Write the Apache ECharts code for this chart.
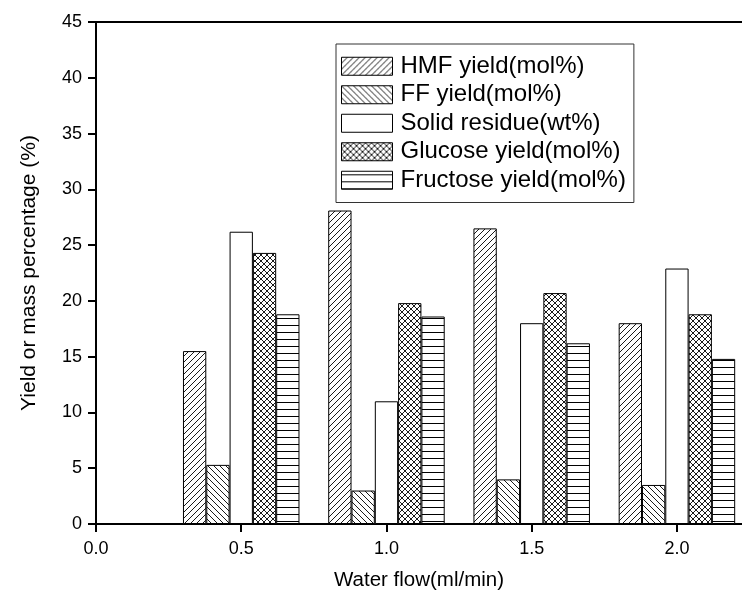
<!DOCTYPE html>
<html><head><meta charset="utf-8">
<script src="https://cdn.jsdelivr.net/npm/echarts@6/dist/echarts.min.js"></script>
<style>html,body{margin:0;padding:0;background:#fff}#c{width:742px;height:600px}</style>
</head><body><div id="c"></div>
<script>
const flows = [0.5, 1.0, 1.5, 2.0];
const seriesNames = ['HMF yield(mol%)', 'FF yield(mol%)', 'Solid residue(wt%)', 'Glucose yield(mol%)', 'Fructose yield(mol%)'];
const hmf = [15.5, 28.1, 26.5, 18.0];
const ff = [5.3, 3.0, 4.0, 3.5];
const solid = [26.2, 11.0, 18.0, 22.9];
const glucose = [24.3, 19.8, 20.7, 18.8];
const fructose = [18.8, 18.6, 16.2, 14.8];
const xTickLabels = ['0.0', '0.5', '1.0', '1.5', '2.0'];
const yTickLabels = ['0', '5', '10', '15', '20', '25', '30', '35', '40', '45'];

function makePattern(type) {
  const s = 6;
  const c = document.createElement('canvas');
  c.width = s; c.height = type === '-' ? 7 : s;
  const ctx = c.getContext('2d');
  ctx.fillStyle = '#fff';
  ctx.fillRect(0, 0, c.width, c.height);
  ctx.strokeStyle = '#000';
  ctx.fillStyle = '#000';
  ctx.lineWidth = 0.9;
  if (type === '-') {
    ctx.fillRect(0, 3, s, 1);
  } else {
    ctx.beginPath();
    for (let k = -1; k <= 1; k++) {
      if (type === '/' || type === 'x') { ctx.moveTo(k * s, s); ctx.lineTo(k * s + s, 0); }
      if (type === '\\' || type === 'x') { ctx.moveTo(k * s, 0); ctx.lineTo(k * s + s, s); }
    }
    ctx.stroke();
  }
  return { image: c, repeat: 'repeat' };
}

const valueLists = [hmf, ff, solid, glucose, fructose];
const fills = [makePattern('/'), makePattern('\\'), '#ffffff', makePattern('x'), makePattern('-')];
const font = 'Liberation Sans, Arial, sans-serif';

const chart = echarts.init(document.getElementById('c'), null, { renderer: 'canvas' });
chart.setOption({
  animation: false,
  backgroundColor: '#fff',
  grid: { left: 96, right: 0, top: 22, bottom: 76, containLabel: false },
  legend: {
    orient: 'vertical', left: 336, top: 44,
    data: seriesNames,
    itemWidth: 51, itemHeight: 18, itemGap: 4,
    padding: [10, 8, 10, 5],
    borderColor: '#333', borderWidth: 1,
    icon: 'rect',
    itemStyle: { borderColor: '#000', borderWidth: 1 },
    textStyle: { fontSize: 24, lineHeight: 24.5, color: '#000', fontFamily: font, padding: [0, 0, 0, 3] }
  },
  xAxis: [{
    type: 'value', min: 0, max: 2.224, interval: 0.5, position: 'bottom',
    axisLine: { show: true, lineStyle: { color: '#000', width: 2 } },
    axisTick: { show: true, length: 8, lineStyle: { color: '#000', width: 2 } },
    axisLabel: {
      fontSize: 18, color: '#000', fontFamily: font, margin: 16, showMaxLabel: false,
      formatter: v => { const i = Math.round(v / 0.5); return Math.abs(v - i * 0.5) < 1e-6 ? xTickLabels[i] : ''; }
    },
    splitLine: { show: false },
    name: 'Water flow(ml/min)', nameLocation: 'middle', nameGap: 46,
    nameTextStyle: { fontSize: 20.5, color: '#000', fontFamily: font }
  }, {
    type: 'value', min: 0, max: 2.224, position: 'top',
    axisLine: { show: true, lineStyle: { color: '#000', width: 2 } },
    axisTick: { show: false }, axisLabel: { show: false }, splitLine: { show: false }
  }],
  yAxis: {
    type: 'value', min: 0, max: 45, interval: 5,
    axisLine: { show: true, lineStyle: { color: '#000', width: 2 } },
    axisTick: { show: true, length: 8, lineStyle: { color: '#000', width: 2 } },
    axisLabel: {
      fontSize: 18, color: '#000', fontFamily: font, margin: 14,
      formatter: v => yTickLabels[Math.round(v / 5)]
    },
    splitLine: { show: false },
    name: 'Yield or mass percentage (%)', nameLocation: 'middle', nameGap: 56,
    nameTextStyle: { fontSize: 21, color: '#000', fontFamily: font }
  },
  series: seriesNames.map((n, si) => ({
    name: n, type: 'bar', xAxisIndex: 0,
    barWidth: 23.3, barGap: '0%',
    data: flows.map((x, i) => [x, valueLists[si][i]]),
    itemStyle: { color: fills[si], borderColor: '#000', borderWidth: 1 }
  }))
});
</script>
</body></html>
